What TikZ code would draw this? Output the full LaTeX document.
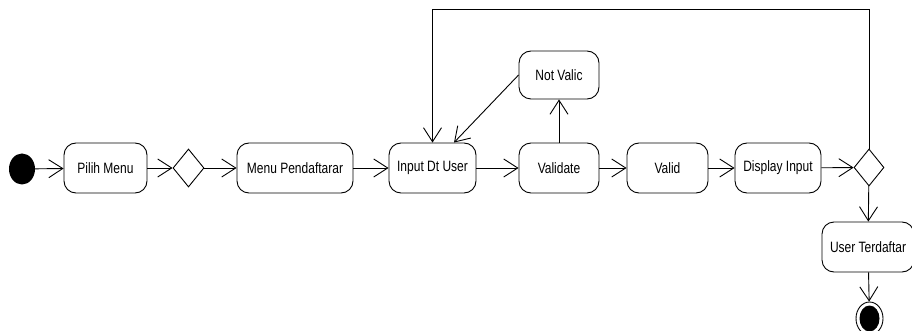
\documentclass[tikz,border=0pt]{standalone}
\usepackage{fontspec}
\setmainfont{Liberation Sans}[FakeStretch=0.8]
\usetikzlibrary{shapes.geometric,arrows.meta}
\begin{document}
\begin{tikzpicture}[x=1pt,y=-1pt,
  every node/.style={font=\fontsize{15}{17}\selectfont},
  act/.style={draw, line width=0.9pt, rounded corners=12pt, minimum height=50pt, inner sep=0pt},
  dec/.style={draw, line width=0.9pt, shape=diamond, minimum width=31pt, minimum height=38pt, inner sep=0pt},
  arr/.style={line width=0.9pt, -{Straight Barb[length=14pt,width=18pt,line width=0.9pt]}},
  ln/.style={line width=0.9pt}]
\useasboundingbox (0,0) rectangle (912,331);
\node[shape=ellipse, fill=black, minimum width=26pt, minimum height=31pt, inner sep=0pt] (start) at (22,169) {};
\node[act, minimum width=83pt] (pilih) at (105.5,168) {Pilih Menu};
\node[dec] (d1) at (188.5,168) {};
\node[act, minimum width=116pt] (menu) at (295,168) {Menu Pendaftarar};
\node[act, minimum width=87pt] (input) at (432.5,168) {Input Dt User};
\node[act, minimum width=80pt] (validate) at (559,168) {Validate};
\node[act, minimum width=80pt, minimum height=48pt] (notvalid) at (559,75) {Not Valic};
\node[act, minimum width=81pt] (valid) at (667.5,168) {Valid};
\node[act, minimum width=86pt] (display) at (778,168) {Display Input};
\node[dec, minimum width=30pt, minimum height=37pt] (d2) at (869,167.5) {};
\node[act, minimum width=92pt] (user) at (868,247) {User Terdaftar};
\node[shape=ellipse, draw, line width=0.9pt, minimum width=27pt, minimum height=33pt, inner sep=0pt] (end) at (869.5,318.5) {};
\node[shape=ellipse, fill=black, minimum width=20pt, minimum height=26pt, inner sep=0pt] (endin) at (869.5,318.5) {};
\coordinate (looptop) at (869,9);
\draw[arr] (start) -- (pilih);
\draw[arr] (pilih) -- (d1);
\draw[arr] (d1) -- (menu);
\draw[arr] (menu) -- (input);
\draw[arr] (input) -- (validate);
\draw[arr] (validate) -- (notvalid);
\draw[arr] (notvalid.west) -- ([xshift=21.5pt]input.north);
\draw[arr] (validate) -- (valid);
\draw[arr] (valid) -- (display);
\draw[arr] (display) -- (d2);
\draw[arr] (d2) -- (user);
\draw[arr] (user) -- (end);
\draw[arr] (d2.north) -- (looptop) -| (input.north);
\end{tikzpicture}
\end{document}
